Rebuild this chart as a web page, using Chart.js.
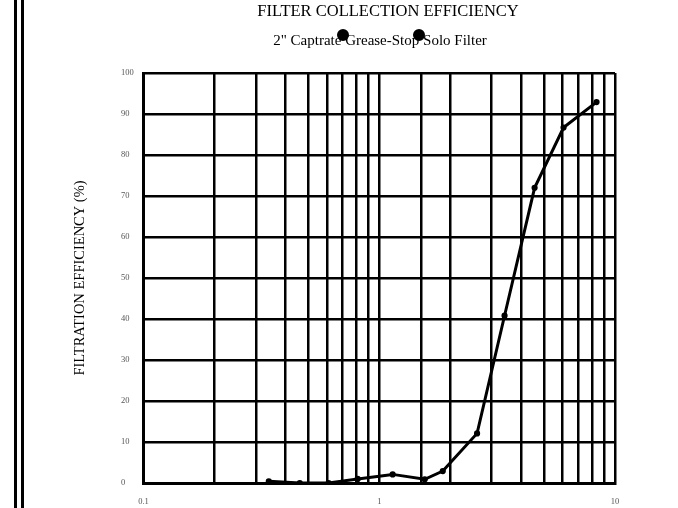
<!DOCTYPE html>
<html>
<head>
<meta charset="utf-8">
<title>Filter Collection Efficiency</title>
<script src="https://cdn.jsdelivr.net/npm/chart.js@4.4.1/dist/chart.umd.min.js"></script>
<style>
    html, body { margin: 0; padding: 0; background: #fff; }
    #chartWrap { position: relative; width: 678px; height: 508px; }
</style>
</head>
<body>
<div id="chartWrap"><canvas id="efficiencyChart"></canvas></div>
<script>
// ===================== DATA =====================
const particleSize = [0.34, 0.46, 0.61, 0.81, 1.14, 1.56, 1.86, 2.6, 3.4, 4.56, 6.05, 8.35];
const efficiency = [0.4, 0, 0, 1.0, 2.1, 0.9, 2.9, 12.1, 40.8, 72.0, 86.7, 92.9];
const xTickLabels = [0.1, 1, 10];
const yTicks = [0, 10, 20, 30, 40, 50, 60, 70, 80, 90, 100];

const chartTitle = 'FILTER COLLECTION EFFICIENCY';
const seriesName = '2" Captrate Grease-Stop Solo Filter';
const yAxisTitle = 'FILTRATION EFFICIENCY (%)';

const serif = '"Liberation Serif", "DejaVu Serif", serif';

// ===================== HEADER, LEGEND & FRAME =====================
const decorPlugin = {
    id: 'decor',
    beforeDraw(chart) {
        const ctx = chart.ctx;
        ctx.save();
        // double rule down the left side
        ctx.fillStyle = '#000';
        ctx.fillRect(14, 0, 3, chart.height);
        ctx.fillRect(21, 0, 3, chart.height);
        ctx.restore();
    },
    afterDraw(chart) {
        const ctx = chart.ctx;
        const area = chart.chartArea;
        ctx.save();
        ctx.fillStyle = '#000';
        ctx.textAlign = 'center';
        ctx.textBaseline = 'alphabetic';

        // title
        ctx.font = '16.5px ' + serif;
        ctx.fillText(chartTitle, 388, 16);

        // legend text
        ctx.font = '15px ' + serif;
        ctx.fillText(seriesName, 380, 45);

        // legend markers (as in the original)
        ctx.beginPath();
        ctx.arc(343, 35, 6, 0, Math.PI * 2);
        ctx.arc(419, 35, 6, 0, Math.PI * 2);
        ctx.fill();

        // y axis title
        ctx.translate(80, (area.top + area.bottom) / 2);
        ctx.rotate(-Math.PI / 2);
        ctx.textBaseline = 'middle';
        ctx.font = '14.5px ' + serif;
        ctx.fillText(yAxisTitle, 0, 0);
        ctx.restore();
    }
};

// ===================== CHART =====================
document.addEventListener('DOMContentLoaded', function() {
    const ctx = document.getElementById('efficiencyChart').getContext('2d');

    const points = particleSize.map((x, i) => ({ x: x, y: efficiency[i] }));

    new Chart(ctx, {
        type: 'scatter',
        data: {
            datasets: [{
                label: seriesName,
                data: points,
                showLine: true,
                borderColor: '#000',
                backgroundColor: '#000',
                borderWidth: 3,
                pointRadius: 1.6,
                pointHoverRadius: 1.6,
                tension: 0
            }]
        },
        options: {
            responsive: true,
            maintainAspectRatio: false,
            animation: false,
            layout: {
                padding: { top: 73, left: 121, right: 63, bottom: 0 }
            },
            plugins: {
                legend: { display: false },
                title: { display: false },
                tooltip: { enabled: false }
            },
            scales: {
                x: {
                    type: 'logarithmic',
                    min: 0.1,
                    max: 10,
                    afterFit: function(scale) { scale.height = 25; },
                    grid: {
                        color: '#000',
                        lineWidth: 2.5,
                        drawTicks: false
                    },
                    border: { color: '#000', width: 3 },
                    ticks: {
                        autoSkip: false,
                        maxRotation: 0,
                        padding: 14,
                        color: '#555',
                        font: { family: serif, size: 8.5 },
                        callback: function(value) {
                            return xTickLabels.some(v => Math.abs(v - value) < 1e-9) ? String(value) : '';
                        }
                    }
                },
                y: {
                    min: 0,
                    max: 100,
                    afterFit: function(scale) { scale.width = 22.5; },
                    afterBuildTicks: function(scale) {
                        scale.ticks = yTicks.map(v => ({ value: v }));
                    },
                    grid: {
                        color: '#000',
                        lineWidth: 2.5,
                        drawTicks: false
                    },
                    border: { color: '#000', width: 3 },
                    ticks: {
                        crossAlign: 'far',
                        color: '#555',
                        font: { family: serif, size: 8.5 }
                    }
                }
            }
        },
        plugins: [decorPlugin]
    });
});
</script>
</body>
</html>
